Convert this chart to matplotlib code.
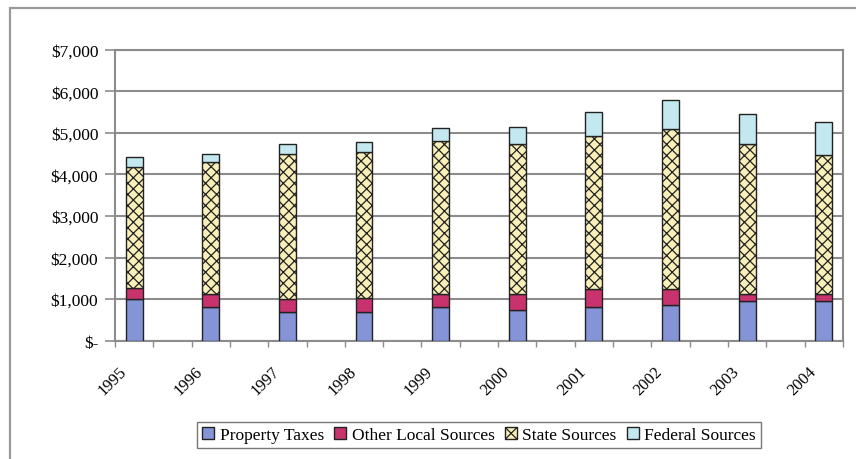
import numpy as np
import matplotlib
matplotlib.use("Agg")
import matplotlib.pyplot as plt
from matplotlib.patches import Rectangle
from matplotlib.transforms import ScaledTranslation

# revenue per pupil by source, dollars
years = ["1995", "1996", "1997", "1998", "1999", "2000", "2001", "2002", "2003", "2004"]
property_taxes = [1000, 800, 690, 690, 810, 750, 820, 860, 960, 950]
other_local = [270, 330, 310, 340, 320, 380, 430, 390, 170, 180]
state_sources = [2900, 3160, 3490, 3500, 3680, 3600, 3680, 3840, 3600, 3330]
federal_sources = [250, 200, 240, 240, 300, 420, 570, 710, 730, 800]

y_ticks = [0, 1000, 2000, 3000, 4000, 5000, 6000, 7000]
y_labels = ["$-", "$1,000", "$2,000", "$3,000", "$4,000", "$5,000", "$6,000", "$7,000"]

plt.rcParams["font.family"] = ["Liberation Serif", "DejaVu Serif"]
plt.rcParams["hatch.linewidth"] = 0.9

fig = plt.figure(figsize=(8.56, 4.6), dpi=100)
ax = fig.add_axes([0.1343, 0.2572, 0.8505, 0.6326])

# outer chart border (runs off the right and bottom edges)
fig.patches.append(Rectangle((10 / 856, -0.2), 1.2, 1.2 - 9 / 460, transform=fig.transFigure,
                             fill=False, edgecolor="#9a9a9a", linewidth=1.6))

x = np.arange(len(years))
w = 0.22
edge = "#222222"
bottom = np.zeros(len(years))

ax.bar(x, property_taxes, w, bottom=bottom, color="#8494d6", edgecolor=edge, linewidth=1, label="Property Taxes", zorder=3)
bottom += property_taxes
ax.bar(x, other_local, w, bottom=bottom, color="#c8336e", edgecolor=edge, linewidth=1, label="Other Local Sources", zorder=3)
bottom += other_local
ax.bar(x, state_sources, w, bottom=bottom, color="#f8f0b8", edgecolor=edge, linewidth=1, hatch="xxx", label="State Sources", zorder=3)
bottom += state_sources
ax.bar(x, federal_sources, w, bottom=bottom, color="#c4e8f0", edgecolor=edge, linewidth=1, label="Federal Sources", zorder=3)

ax.set_xlim(-0.25, len(years) - 0.75)
ax.set_ylim(0, 7000)

ax.set_yticks(y_ticks)
ax.set_yticklabels(y_labels, fontsize=12.5)
ax.yaxis.grid(True, color="#8c8c8c", linewidth=1.5, zorder=0)
ax.tick_params(axis="y", length=7, width=1.2, color="#8c8c8c", pad=5)

# year labels sit slanted, ending just left of each bar
ax.set_xticks(np.arange(-0.25, len(years) - 0.5, 0.5))
ax.set_xticklabels([])
ax.tick_params(axis="x", length=4, width=1, color="#8c8c8c")
lbl_trans = ax.get_xaxis_transform() + ScaledTranslation(-0.16, -0.22, fig.dpi_scale_trans)
for xi, yr in zip(x, years):
    ax.text(xi, 0, yr, transform=lbl_trans, fontsize=12, rotation=45,
            ha="right", va="top", rotation_mode="anchor")

for s in ax.spines.values():
    s.set_color("#8c8c8c")
    s.set_linewidth(1.5)

ax.legend(loc="center", bbox_to_anchor=(479 / 856, 0.052), bbox_transform=fig.transFigure,
          ncol=4, fontsize=12.5, frameon=True, fancybox=False, edgecolor="#555555",
          handlelength=0.7, handleheight=0.7, handletextpad=0.3, columnspacing=0.6,
          borderpad=0.3, borderaxespad=0)

fig.savefig("out.png", dpi=100)
